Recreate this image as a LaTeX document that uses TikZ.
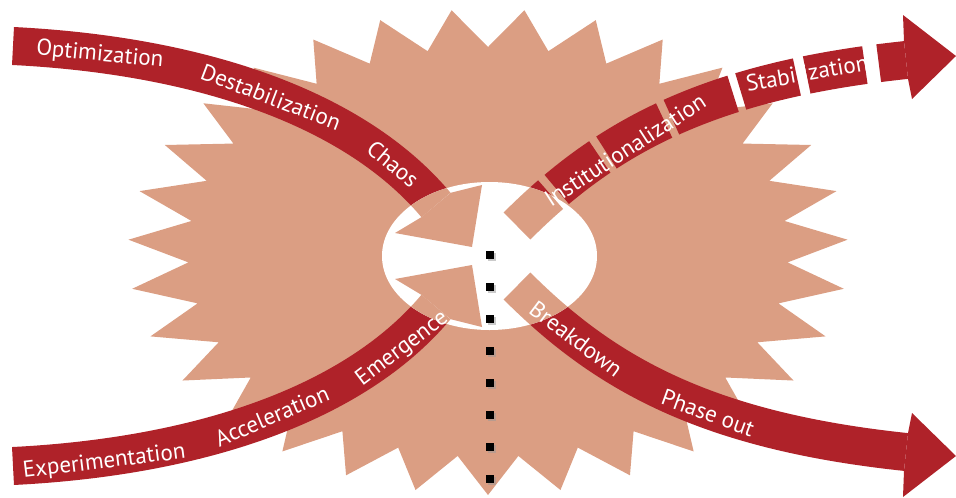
\documentclass[tikz,border=0pt]{standalone}
\usepackage{fontspec}
\setmainfont{PT Sans}
\definecolor{salmon}{RGB}{219,158,131}
\definecolor{arrowred}{RGB}{175,34,41}
\begin{document}
\begin{tikzpicture}[x=1pt,y=-1pt,
  band/.style={line width=38pt},
  dashband/.style={line width=38pt,dash pattern=on 46pt off 8pt on 54pt off 8pt on 66pt off 8pt on 66pt off 8pt on 58pt off 10pt on 59pt off 14pt on 200pt off 10pt},
  lbl/.style={text=white,font=\fontsize{23}{23}\selectfont,inner sep=0pt,text height=16pt,text depth=0pt},
  dotline/.style={line width=8pt,dash pattern=on 8pt off 24pt}]
\useasboundingbox (0,0) rectangle (956,498);

% coordinates of the four arrows
\coordinate (a1s) at (13,46);   \coordinate (a1p) at (193,55);  \coordinate (a1q) at (352,105); \coordinate (a1e) at (436,205);
\coordinate (a2s) at (13,466);  \coordinate (a2p) at (193,457); \coordinate (a2q) at (352,407); \coordinate (a2e) at (436,307);
\coordinate (a3s) at (517,226); \coordinate (a3p) at (605,138); \coordinate (a3q) at (707,81);  \coordinate (a3e) at (906,60);
\coordinate (a4s) at (517,286); \coordinate (a4p) at (605,374); \coordinate (a4q) at (707,431); \coordinate (a4e) at (906,452);

\newcommand\drawarrows[1]{%
  \draw[band,#1] (a1s) .. controls (a1p) and (a1q) .. (a1e);
  \fill[#1] (450.6,192.8) -- (482,185) -- (472,247) -- (395,233) -- (421.4,217.2) -- cycle;
  \draw[band,#1] (a2s) .. controls (a2p) and (a2q) .. (a2e);
  \fill[#1] (450.6,319.2) -- (482,327) -- (472,265) -- (395,279) -- (421.4,294.8) -- cycle;
  \draw[dashband,#1] (a3s) .. controls (a3p) and (a3q) .. (a3e);
  \fill[#1] (904,41.1) -- (903,15) -- (956,56) -- (912,99) -- (908,78.9) -- cycle;
  \draw[band,#1] (a4s) .. controls (a4p) and (a4q) .. (a4e);
  \fill[#1] (908,433.1) -- (912,413) -- (956,456) -- (903,497) -- (904,470.9) -- cycle;
}

% star burst
\fill[salmon,shift={(488,252)}] (90:360 and 243)
  \foreach \k in {0,...,30}{ -- ({90+(\k+0.5)*360/31}:300 and 205) -- ({90+(\k+1)*360/31}:360 and 243)} -- cycle;

% dark arrows
\drawarrows{arrowred}

% central hole
\begin{scope}
  \clip (489.5,256) ellipse [x radius=107.5pt, y radius=74pt];
  \fill[white] (0,0) rectangle (956,498);
  \drawarrows{salmon}
\end{scope}

% labels
\node[lbl,rotate=-5.5] (tOpt) at (100,53) {Optimization};
\node[lbl,rotate=-21] (tDes) at (271,97) {Destabilization};
\node[lbl,rotate=-40] (tCha) at (393,164) {Chaos};
\node[lbl,rotate=7] (tExp) at (104,460) {Experimentation};
\node[lbl,rotate=23] (tAcc) at (272,416) {Acceleration};
\node[lbl,rotate=37] (tEme) at (401,347) {Emergence};
\node[lbl,rotate=-37] (tBre) at (576,339) {Breakdown};
\node[lbl,rotate=-20] (tPha) at (708,413) {Phase out};
\node[lbl,rotate=33] (tIns) at (625,150) {Institutionalization};
\node[lbl,rotate=10] (tSta) at (807,73) {Stabilization};

% dotted divider
\coordinate (d1) at (490,251);
\coordinate (d2) at (490,483);
\draw[dotline,black!40,opacity=0.5] ([shift={(1.5,2)}]d1) -- ([shift={(1.5,2)}]d2);
\draw[dotline,black] (d1) -- (d2);
\end{tikzpicture}
\end{document}
